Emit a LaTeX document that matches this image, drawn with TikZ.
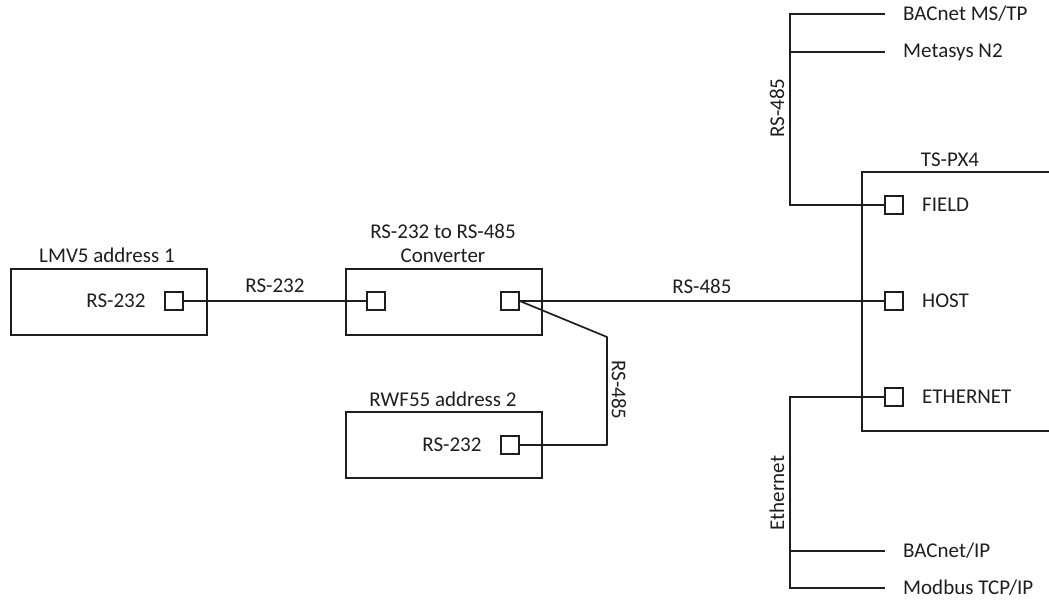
\documentclass[tikz,border=0pt]{standalone}
\usepackage{fontspec}
\setmainfont{Carlito}
\definecolor{ink}{RGB}{30,30,30}
\begin{document}
\begin{tikzpicture}[x=1pt,y=-1pt,
  box/.style={draw=ink, rectangle, line width=1.7pt, minimum width=196pt, minimum height=66pt, inner sep=0pt, anchor=north west},
  port/.style={draw=ink, rectangle, line width=1.5pt, minimum size=18pt, inner sep=0pt},
  lbl/.style={text=ink, font=\fontsize{21}{24}\selectfont, inner sep=0pt},
  wire/.style={draw=ink, line width=1.7pt}]
\useasboundingbox (0,0) rectangle (1049,600);

% boxes
\node[box] (lmv) at (10,268) {};
\node[box] (conv) at (345,268) {};
\node[box] (rwf) at (345,411) {};
\draw[wire] (1052,172) -- (862,172) -- (862,431) -- (1052,431);

% box titles
\node[lbl] (lmvt) at (107,255) {LMV5 address 1};
\node[lbl, align=center] (convt) at (443,243) {RS-232 to RS-485\\Converter};
\node[lbl] (rwft) at (443,399) {RWF55 address 2};
\node[lbl] (tst) at (950,160) {TS-PX4};

% ports
\node[port] (lmvp) at (174,301) {};
\node[port] (cin) at (376,301) {};
\node[port] (cout) at (510,301) {};
\node[port] (rwfp) at (510,445) {};
\node[port] (field) at (894,205) {};
\node[port] (host) at (894,301) {};
\node[port] (eth) at (894,397) {};

% port labels
\node[lbl] (lmvpl) at (116,301) {RS-232};
\node[lbl] (rwfpl) at (452,445) {RS-232};
\node[lbl, anchor=west] (fieldl) at (922,205) {FIELD};
\node[lbl, anchor=west] (hostl) at (922,301) {HOST};
\node[lbl, anchor=west] (ethl) at (922,397) {ETHERNET};

% bus coordinates
\coordinate (rsTop) at (790,14);
\coordinate (rsMid) at (790,52);
\coordinate (rsBot) at (790,205);
\coordinate (msEnd) at (885,14);
\coordinate (n2End) at (885,52);
\coordinate (ethTop) at (790,397);
\coordinate (ethMid) at (790,551);
\coordinate (ethBot) at (790,588);
\coordinate (bipEnd) at (885,551);
\coordinate (mbEnd) at (885,588);
\coordinate (bend1) at (607,337);
\coordinate (bend2) at (607,445);

% wires
\draw[wire] (lmvp.east) -- (cin.west) node[lbl, midway, above=8pt] (l232) {RS-232};
\draw[wire] (cout.east) -- (host.west) node[lbl, pos=0.5, above=7pt] (l485) {RS-485};
\draw[wire, line join=round] (cout.east) -- (bend1) -- (bend2) -- (rwfp.east);
\node[lbl, rotate=-90] (l485b) at (619,390) {RS-485};

\draw[wire] (msEnd) -- (rsTop) -- (rsBot) -- (field.west);
\draw[wire] (rsMid) -- (n2End);
\node[lbl, rotate=90] (l485c) at (777,108) {RS-485};
\node[lbl, anchor=west] (ms) at (903,14) {BACnet MS/TP};
\node[lbl, anchor=west] (n2) at (903,52) {Metasys N2};

\draw[wire] (eth.west) -- (ethTop) -- (ethBot) -- (mbEnd);
\draw[wire] (ethMid) -- (bipEnd);
\node[lbl, rotate=90] (ethl2) at (777,493) {Ethernet};
\node[lbl, anchor=west] (bip) at (903,551) {BACnet/IP};
\node[lbl, anchor=west] (mb) at (903,588) {Modbus TCP/IP};
\end{tikzpicture}
\end{document}
